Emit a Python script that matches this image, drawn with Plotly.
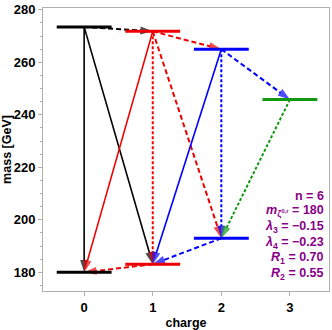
import plotly.graph_objects as go

# energy levels: charge, mass [GeV], colour
level_q = [0, 0, 1, 1, 2, 2, 3]
level_m = [273.5, 180.0, 271.8, 183.1, 265.0, 193.0, 245.8]
level_col = ["black", "black", "#ee0000", "#ee0000", "#0000ff", "#0000ff", "#119911"]

# decays: from level, to level, line style
dec_from = [0, 0, 0, 2, 2, 2, 2, 3, 4, 4, 4, 5, 6]
dec_to = [1, 3, 2, 1, 3, 4, 5, 1, 3, 5, 6, 3, 5]
dec_style = ["solid", "solid", "dash", "solid", "dot", "dash", "dash", "dash",
             "solid", "dot", "dash", "dash", "dot"]

params = ["n = 6", "<i>m</i><sub>ζ<sup>0,r</sup></sub> = 180", "<i>λ</i><sub>3</sub> = −0.15",
          "<i>λ</i><sub>4</sub> = −0.23", "<i>R</i><sub>1</sub> = 0.70", "<i>R</i><sub>2</sub> = 0.55"]

dash_map = {"solid": "solid", "dash": "5px,3px", "dot": "3px,2px"}

fig = go.Figure()

for a, b, s in zip(dec_from, dec_to, dec_style):
    fig.add_trace(go.Scatter(
        x=[level_q[a], level_q[b]], y=[level_m[a], level_m[b]],
        mode="lines+markers",
        line=dict(color=level_col[a], width=1.6 if s == "solid" else 2, dash=dash_map[s]),
        marker=dict(symbol="arrow", size=[0, 13], angleref="previous",
                    color=level_col[a], line=dict(width=0)),
        showlegend=False, hoverinfo="skip"))

for q, m, c in zip(level_q, level_m, level_col):
    fig.add_trace(go.Scatter(
        x=[q - 0.4, q + 0.4], y=[m, m], mode="lines",
        line=dict(color=c, width=3), showlegend=False, hoverinfo="skip"))

# parameter box, one line per ~6 GeV, right aligned inside the frame
for i, t in enumerate(params):
    fig.add_annotation(
        x=0.99, y=209.2 - i * 5.95, xref="paper", yref="y",
        xanchor="right", yanchor="middle", showarrow=False,
        text="<b>" + t + "</b>", font=dict(size=12.5, color="#880088"))

axis_common = dict(
    showline=True, linecolor="#b0b0b0", linewidth=1, mirror=True,
    ticks="outside", ticklen=4, tickcolor="#b0b0b0", showgrid=False, zeroline=False,
    tickfont=dict(size=13, color="black", family="Liberation Sans, Arial"),
    ticklabeloverflow="allow",
)

fig.update_layout(
    width=332, height=330,
    margin=dict(l=43, r=2, t=5, b=36),
    paper_bgcolor="white", plot_bgcolor="white",
    font=dict(family="Liberation Sans, Arial", color="black"),
    xaxis=dict(range=[-0.6, 3.57], tickvals=[0, 1, 2, 3],
               ticktext=["<b>0</b>", "<b>1</b>", "<b>2</b>", "<b>3</b>"],
               title=dict(text="<b>charge</b>", font=dict(size=12.5), standoff=5),
               **axis_common),
    yaxis=dict(range=[172.9, 280.7], tickvals=[180, 200, 220, 240, 260, 280],
               ticktext=["<b>%d</b>" % v for v in [180, 200, 220, 240, 260, 280]],
               minor=dict(dtick=5, ticks="outside", ticklen=2, tickcolor="#b0b0b0"),
               title=dict(text="<b>mass [GeV]</b>", font=dict(size=12.5), standoff=3),
               **axis_common),
)

fig.write_html("out.html", config={"displayModeBar": False},
               post_script="document.body.style.margin='0';")
